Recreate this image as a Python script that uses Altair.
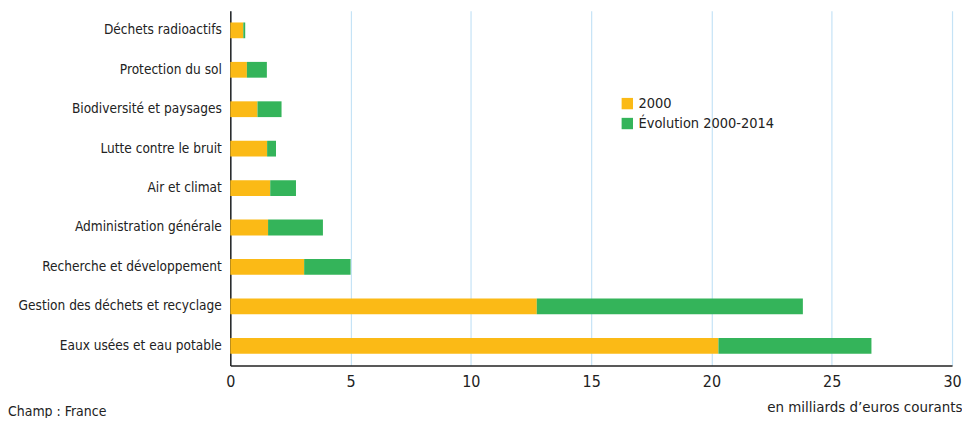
import altair as alt
import pandas as pd

categories = [
    "Déchets radioactifs",
    "Protection du sol",
    "Biodiversité et paysages",
    "Lutte contre le bruit",
    "Air et climat",
    "Administration générale",
    "Recherche et développement",
    "Gestion des déchets et recyclage",
    "Eaux usées et eau potable",
]
val_2000 = [0.54, 0.69, 1.13, 1.53, 1.66, 1.57, 3.07, 12.74, 20.29]
val_evol = [0.08, 0.83, 1.00, 0.37, 1.07, 2.28, 1.93, 11.06, 6.36]
series = ["2000", "Évolution 2000-2014"]
colors = ["#FBBA16", "#34B45A"]
x_ticks = [0, 5, 10, 15, 20, 25, 30]

rows = []
for c, a, b in zip(categories, val_2000, val_evol):
    rows.append({"cat": c, "serie": series[0], "val": a, "ord": 0})
    rows.append({"cat": c, "serie": series[1], "val": b, "ord": 1})
df = pd.DataFrame(rows)

FONT = "'DejaVu Sans Condensed', 'Roboto', sans-serif"

bars = alt.Chart(df).mark_bar().encode(
    y=alt.Y("cat:N", sort=categories,
            scale=alt.Scale(paddingInner=0.6, paddingOuter=0.3),
            axis=alt.Axis(title=None, labelFontSize=13.6, labelFont=FONT, labelColor="#222",
                          labelPadding=9, ticks=False, domainColor="#222", domainWidth=1.5,
                          labelLimit=300)),
    x=alt.X("val:Q", stack="zero",
            scale=alt.Scale(domain=[0, 30], nice=False),
            axis=alt.Axis(values=x_ticks, title="en milliards d\u2019euros courants",
                          titleFont=FONT, titleFontSize=15, titleFontWeight="normal",
                          titleColor="#222", titleAnchor="end", titleAlign="right",
                          titleX=734, titleY=46, titleBaseline="alphabetic",
                          labelFont=FONT, labelFontSize=16, labelColor="#222",
                          labelPadding=8, labelFlush=False, ticks=False,
                          domainColor="#222", domainWidth=1.5,
                          grid=True, gridColor="#C5E3F6", gridWidth=1.2)),
    color=alt.Color("serie:N", scale=alt.Scale(domain=series, range=colors),
                    legend=alt.Legend(title=None, orient="none", legendX=391, legendY=86,
                                      symbolType="square", symbolSize=130,
                                      symbolStrokeWidth=0, labelFont=FONT,
                                      labelFontSize=14.5, labelColor="#222",
                                      rowPadding=5, symbolOffset=0)),
    order=alt.Order("ord:Q"),
)

note = alt.Chart(pd.DataFrame({"t": ["Champ : France"]})).mark_text(
    align="left", baseline="alphabetic", font=FONT, fontSize=14, color="#222"
).encode(text="t:N", x=alt.value(-223), y=alt.value(407))

chart = alt.layer(bars, note).properties(
    width=724, height=356,
    autosize=alt.AutoSizeParams(type="none"),
    padding={"left": 223, "top": 2, "right": 10, "bottom": 52},
).configure_view(stroke=None)

chart.save("out.html", embed_options={"renderer": "svg", "actions": False})
